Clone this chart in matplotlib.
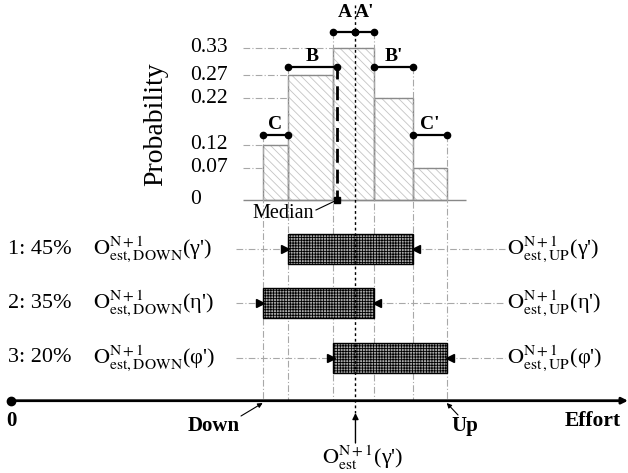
import matplotlib
matplotlib.use("Agg")
import matplotlib.pyplot as plt
import numpy as np

plt.rcParams['font.family'] = ['Liberation Serif', 'DejaVu Serif']
plt.rcParams['mathtext.fontset'] = 'stix'
plt.rcParams['hatch.linewidth'] = 0.6

# ---------------- data (effort units) ----------------
bin_edges = [40.79, 44.85, 52.24, 58.88, 65.20, 70.62]
probs = [0.12, 0.27, 0.33, 0.22, 0.07]
bin_names = ["C", "B", "A", "B'", "C'"]
median = 52.84
estimate = 55.83
down, up = 40.79, 70.62
row_labels = ["1: 45%", "2: 35%", "3: 20%"]
row_down = [44.85, 40.79, 52.24]
row_up = [65.20, 58.88, 70.62]
row_params = ["γ'", "η'", "φ'"]
ytick_vals = [0, 0.07, 0.12, 0.22, 0.27, 0.33]
ytick_labels = ["0", "0.07", "0.12", "0.22", "0.27", "0.33"]

# ---------------- layout helpers ----------------
W, H = 628, 473
def X(px):
    return (px - 11) / 6.17

K = 462.0  # px per probability unit
fig = plt.figure(figsize=(W / 100, H / 100), dpi=100)
axh = fig.add_axes([0, 0, 1, 1])
axh.set_xlim(X(0), X(W))
axh.set_ylim(-(H - 200) / K, 200 / K)
axh.axis('off')
axh.set_zorder(1)
ax = fig.add_axes([0, 0, 1, 1])
ax.set_xlim(X(0), X(W))
ax.set_ylim(H, 0)
ax.axis('off')
ax.set_zorder(2)
ax.patch.set_alpha(0)

grey = '#a8a8a8'
dashdot = (0, (6, 2, 1, 2))

# ---------------- histogram ----------------
lefts = bin_edges[:-1]
widths = np.diff(bin_edges)
for i, p in enumerate(probs):
    axh.hlines(p, X(243), bin_edges[i + 1], colors=grey, lw=0.8, linestyles=dashdot, zorder=0)
axh.hlines(0, X(243), X(466), colors='#888888', lw=1.0, zorder=3)
axh.bar(lefts, probs, width=widths, align='edge', facecolor='white',
        edgecolor='#c4c4c4', hatch='\\\\\\\\', lw=0, zorder=2)
axh.bar(lefts, probs, width=widths, align='edge', fill=False,
        edgecolor='#8a8a8a', lw=1.0, zorder=3)
for v, lab in zip(ytick_vals, ytick_labels):
    axh.text(X(190), v, lab, ha='left', va='center', fontsize=15.5)
axh.text(X(156), 0.165, "Probability", rotation=90, ha='center', va='center', fontsize=20)

# brackets (pixel rows)
yA, yB, yC = 31.7, 67.3, 135.0
brackets = [
    (bin_edges[2], estimate, yA, "A"),
    (estimate, bin_edges[3], yA, "A'"),
    (bin_edges[1], median, yB, "B"),
    (bin_edges[3], bin_edges[4], yB, "B'"),
    (bin_edges[0], bin_edges[1], yC, "C"),
    (bin_edges[4], bin_edges[5], yC, "C'"),
]
for x0, x1, yy, lab in brackets:
    ax.plot([x0, x1], [yy, yy], color='black', lw=1.6, marker='o', ms=4.5, zorder=6)
    off = 11 if lab.startswith('A') else 2
    ax.text((x0 + x1) / 2, yy - off, lab, ha='center', va='bottom',
            fontsize=14, fontweight='bold', zorder=6)

# vertical guide lines
tops = [yC, yB, yA, yA, yB, yC]
for e, t in zip(bin_edges, tops):
    ax.vlines(e, t, 400, colors=grey, lw=0.8, linestyles=dashdot, zorder=1)
ax.vlines(estimate, 5, 413, colors='black', lw=1.0, linestyles=(0, (2, 2)), zorder=7)

# median
ax.vlines(median, 65, 200, colors='black', lw=2.0, linestyles=(0, (5, 2.5)), zorder=7)
ax.plot([median], [200], marker='s', ms=4, color='black', zorder=8)
ax.text(X(283.5), 213, "Median", ha='center', va='center', fontsize=14.5)
ax.plot([X(316), median], [210, 200], color='black', lw=0.8)

# ---------------- interval rows ----------------
rows_y = [249, 303.3, 357.7]
for y, lab, d, u, par in zip(rows_y, row_labels, row_down, row_up, row_params):
    ax.hlines(y, X(236), d, colors=grey, lw=0.8, linestyles=dashdot, zorder=1)
    ax.hlines(y, u, X(505), colors=grey, lw=0.8, linestyles=dashdot, zorder=1)
    ax.barh(y, u - d, left=d, height=30, facecolor='#a8a8a8', edgecolor='black',
            hatch='++++++', lw=1.0, zorder=3)
    ax.plot([d - 0.45], [y], marker='>', ms=5.5, color='black', zorder=4)
    ax.plot([u + 0.45], [y], marker='<', ms=5.5, color='black', zorder=4)
    ax.text(X(8), y, lab, ha='left', va='center', fontsize=16)
    ax.text(X(93), y, r"$\mathrm{O}_{\mathrm{est,DOWN}}^{\mathrm{N+1}}$(" + par + ")",
            ha='left', va='center', fontsize=16)
    ax.text(X(507), y, r"$\mathrm{O}_{\mathrm{est\,,UP}}^{\mathrm{N+1}}$(" + par + ")",
            ha='left', va='center', fontsize=16)

# ---------------- effort axis ----------------
ya = 400.7
ax.annotate('', xy=(X(628), ya), xytext=(0, ya),
            arrowprops=dict(arrowstyle='-|>', lw=2.0, color='black', mutation_scale=9,
                            shrinkA=0, shrinkB=0), zorder=5)
ax.plot([0], [ya], marker='o', ms=6, color='black', zorder=6)
ax.text(0, 421, "0", ha='center', va='center', fontsize=15, fontweight='bold')
ax.text(X(593), 421, "Effort", ha='center', va='center', fontsize=15.5, fontweight='bold')
ax.text(X(214), 426, "Down", ha='center', va='center', fontsize=15, fontweight='bold')
ax.text(X(465), 426, "Up", ha='center', va='center', fontsize=15, fontweight='bold')
ax.annotate('', xy=(down, 403), xytext=(X(241), 416),
            arrowprops=dict(arrowstyle='-|>', lw=0.8, color='black', mutation_scale=7,
                            shrinkA=0, shrinkB=0))
ax.annotate('', xy=(up, 403), xytext=(X(458), 415),
            arrowprops=dict(arrowstyle='-|>', lw=0.8, color='black', mutation_scale=7,
                            shrinkA=0, shrinkB=0))
ax.annotate('', xy=(estimate, 413), xytext=(estimate, 443),
            arrowprops=dict(arrowstyle='-|>', lw=1.0, color='black', mutation_scale=9,
                            shrinkA=0, shrinkB=0))
ax.text(X(363), 458, r"$\mathrm{O}_{\mathrm{est}}^{\mathrm{N+1}}$(γ')",
        ha='center', va='center', fontsize=16)

fig.savefig("out.png", dpi=100)
